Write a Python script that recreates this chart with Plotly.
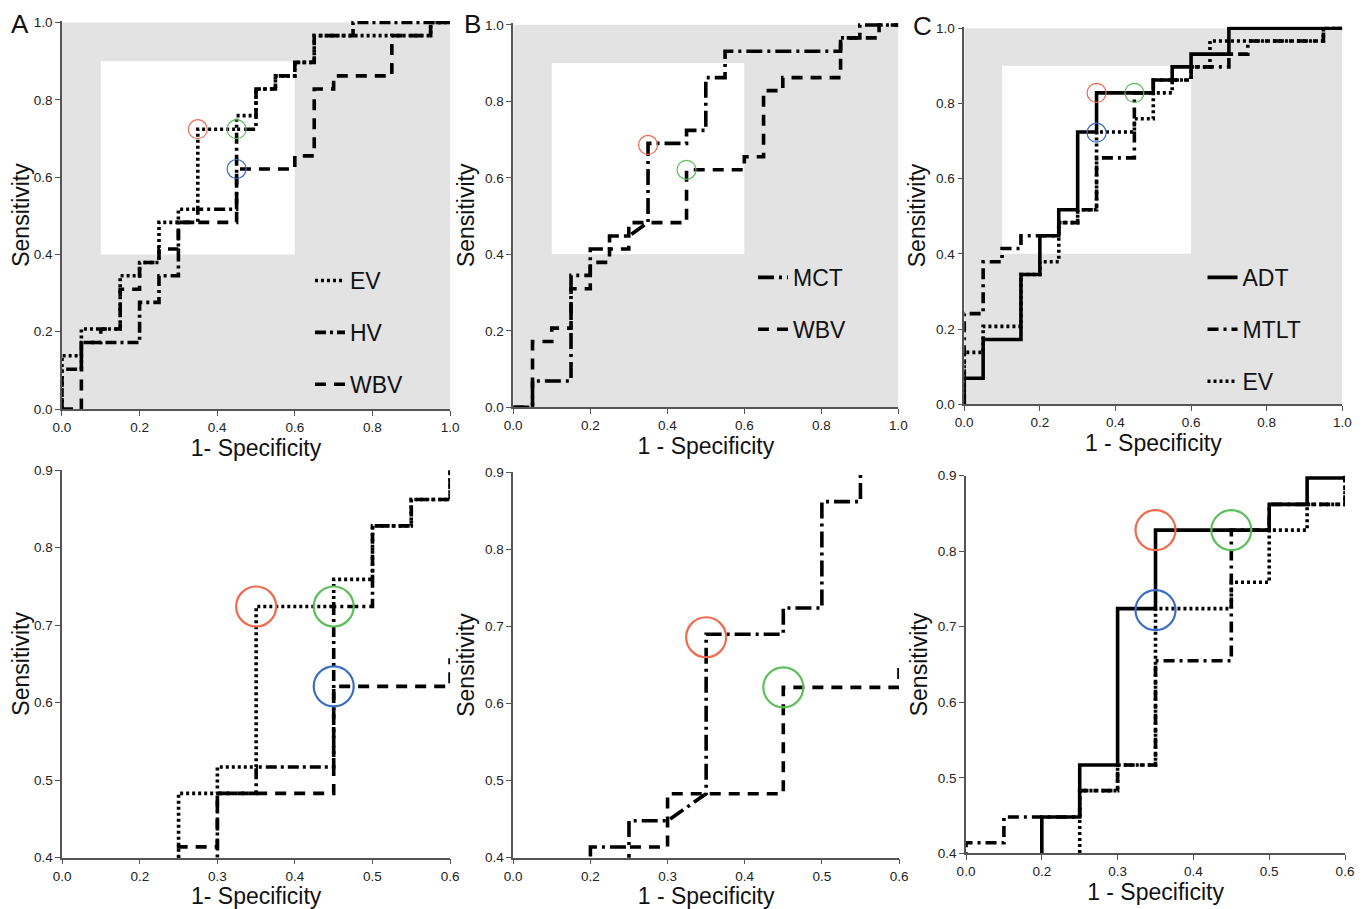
import plotly.graph_objects as go

# ---------------- data (1 - specificity, sensitivity) ----------------
EV_X = [0, 0, 0.05, 0.05, 0.15, 0.15, 0.2, 0.2, 0.25, 0.25, 0.3, 0.3, 0.35, 0.35, 0.45, 0.45,
        0.5, 0.5, 0.55, 0.55, 0.6, 0.6, 0.65, 0.65, 0.95, 0.95, 1.0]
EV_Y = [0, 0.138, 0.138, 0.207, 0.207, 0.345, 0.345, 0.379, 0.379, 0.483, 0.483, 0.517, 0.517, 0.724, 0.724, 0.759,
        0.759, 0.828, 0.828, 0.862, 0.862, 0.897, 0.897, 0.966, 0.966, 1.0, 1.0]

HV_X = [0, 0, 0.05, 0.05, 0.2, 0.2, 0.25, 0.25, 0.3, 0.3, 0.35, 0.35, 0.45, 0.45, 0.5, 0.5,
        0.55, 0.55, 0.6, 0.6, 0.65, 0.65, 0.75, 0.75, 1.0]
HV_Y = [0, 0.103, 0.103, 0.172, 0.172, 0.276, 0.276, 0.345, 0.345, 0.483, 0.483, 0.517, 0.517, 0.724, 0.724, 0.828,
        0.828, 0.862, 0.862, 0.897, 0.897, 0.966, 0.966, 1.0, 1.0]

WBV_X = [0, 0.05, 0.05, 0.1, 0.1, 0.15, 0.15, 0.2, 0.2, 0.25, 0.25, 0.3, 0.3, 0.45, 0.45, 0.6,
         0.6, 0.65, 0.65, 0.7, 0.7, 0.85, 0.85, 0.95, 0.95, 1.0]
WBV_Y = [0, 0, 0.172, 0.172, 0.207, 0.207, 0.310, 0.310, 0.379, 0.379, 0.414, 0.414, 0.483, 0.483, 0.621, 0.621,
         0.655, 0.655, 0.828, 0.828, 0.862, 0.862, 0.966, 0.966, 1.0, 1.0]

MCT_X = [0, 0.05, 0.05, 0.15, 0.15, 0.2, 0.2, 0.25, 0.25, 0.3, 0.35, 0.35, 0.45, 0.45, 0.5, 0.5,
         0.55, 0.55, 0.85, 0.85, 0.9, 0.9, 1.0]
MCT_Y = [0, 0, 0.069, 0.069, 0.345, 0.345, 0.414, 0.414, 0.448, 0.448, 0.483, 0.690, 0.690, 0.724, 0.724, 0.862,
         0.862, 0.931, 0.931, 0.966, 0.966, 1.0, 1.0]

ADT_X = [0, 0, 0.05, 0.05, 0.15, 0.15, 0.2, 0.2, 0.25, 0.25, 0.3, 0.3, 0.35, 0.35, 0.5, 0.5,
         0.55, 0.55, 0.6, 0.6, 0.7, 0.7, 1.0]
ADT_Y = [0, 0.069, 0.069, 0.172, 0.172, 0.345, 0.345, 0.448, 0.448, 0.517, 0.517, 0.724, 0.724, 0.828, 0.828, 0.862,
         0.862, 0.897, 0.897, 0.931, 0.931, 1.0, 1.0]

MTLT_X = [0, 0, 0.05, 0.05, 0.1, 0.1, 0.15, 0.15, 0.25, 0.25, 0.3, 0.3, 0.35, 0.35, 0.45, 0.45,
          0.5, 0.5, 0.6, 0.6, 0.7, 0.7, 0.75, 0.75, 0.95, 0.95, 1.0]
MTLT_Y = [0, 0.241, 0.241, 0.379, 0.379, 0.414, 0.414, 0.448, 0.448, 0.483, 0.483, 0.517, 0.517, 0.655, 0.655, 0.828,
          0.828, 0.862, 0.862, 0.897, 0.897, 0.931, 0.931, 0.966, 0.966, 1.0, 1.0]

# highlighted cut-off points (orange, green, blue)
A_CUT_X = [0.35, 0.45, 0.45]
A_CUT_Y = [0.724, 0.724, 0.621]
B_CUT_X = [0.35, 0.45]
B_CUT_Y = [0.686, 0.621]
C_CUT_X = [0.35, 0.45, 0.35]
C_CUT_Y = [0.828, 0.828, 0.722]
CUT_COLORS = ["#f06a4e", "#5cbf5a", "#3b6cc6"]

# zoom window and ticks
ZOOM_X = [0.1, 0.6]
ZOOM_Y = [0.4, 0.9]
TOP_TICKS = [0.0, 0.2, 0.4, 0.6, 0.8, 1.0]
ZOOM_XTICKS = [0.1, 0.2, 0.3, 0.4, 0.5, 0.6]
ZOOM_XTICKTEXT = ["0.0", "0.2", "0.3", "0.4", "0.5", "0.6"]
ZOOM_YTICKS = [0.4, 0.5, 0.6, 0.7, 0.8, 0.9]

# ---------------- styles ----------------
FONT = "Liberation Sans, Arial, sans-serif"
LW = 3.6
STYLE = {
    "EV": dict(dash="3px,3px", width=LW),
    "HV": dict(dash="11px,4px,3px,4px", width=LW),
    "WBV": dict(dash="11px,8px", width=LW),
    "MCT": dict(dash="16px,5px,3px,5px", width=LW),
    "ADT": dict(dash="solid", width=LW),
    "MTLT": dict(dash="11px,5px,3px,5px", width=LW),
}

panels = [
    dict(letter="A", xtitle="1- Specificity",
         series=[("EV", EV_X, EV_Y), ("HV", HV_X, HV_Y), ("WBV", WBV_X, WBV_Y)],
         cut=(A_CUT_X, A_CUT_Y),
         top_dom=([0.0398, 0.3260], [0.5549, 0.9856]),
         bot_dom=([0.0400, 0.3260], [0.0569, 0.4872]),
         ystandoff=0,
         legend_pos=(0.2227, 0.7214), letter_pos=(0.0010, 0.9822)),
    dict(letter="B", xtitle="1 - Specificity",
         series=[("MCT", MCT_X, MCT_Y), ("WBV", WBV_X, WBV_Y)],
         cut=(B_CUT_X, B_CUT_Y),
         top_dom=([0.3726, 0.6566], [0.5568, 0.9830]),
         bot_dom=([0.3726, 0.6571], [0.0569, 0.4847]),
         ystandoff=4,
         legend_pos=(0.5494, 0.7248), letter_pos=(0.3350, 0.9822)),
    dict(letter="C", xtitle="1 - Specificity",
         series=[("ADT", ADT_X, ADT_Y), ("MTLT", MTLT_X, MTLT_Y), ("EV", EV_X, EV_Y)],
         cut=(C_CUT_X, C_CUT_Y),
         top_dom=([0.7052, 0.9840], [0.5602, 0.9793]),
         bot_dom=([0.7065, 0.9860], [0.0618, 0.4809]),
         ystandoff=4,
         legend_pos=(0.8809, 0.7248), letter_pos=(0.6662, 0.9800)),
]

fig = go.Figure()
layout = dict(
    width=1356, height=901,
    margin=dict(l=0, r=0, t=0, b=0, autoexpand=False),
    paper_bgcolor="white", plot_bgcolor="white",
    font=dict(family=FONT, color="#111"),
    shapes=[], annotations=[],
)

axis_common = dict(showgrid=False, zeroline=False, showline=True, linecolor="#555", linewidth=1.5,
                   ticks="outside", ticklen=5, tickcolor="#555", tickwidth=1.2, automargin=False,
                   tickfont=dict(size=13.5, color="#222", family=FONT))


def ax(n):
    return "" if n == 1 else str(n)


for i, p in enumerate(panels):
    tx, ty = 2 * i + 1, 2 * i + 2          # top axes numbers
    bx, by = 2 * i + 7, 2 * i + 8          # bottom axes numbers
    leg = "legend" if i == 0 else f"legend{i + 1}"

    # top axes
    layout[f"xaxis{ax(tx)}"] = dict(axis_common, domain=p["top_dom"][0], anchor=f"y{ax(ty)}",
                                    range=[0, 1.0], tickvals=TOP_TICKS, tickformat=".1f",
                                    title=dict(text=p["xtitle"], font=dict(size=23, family=FONT), standoff=5))
    layout[f"yaxis{ax(ty)}"] = dict(axis_common, domain=p["top_dom"][1], anchor=f"x{ax(tx)}",
                                    range=[0, 1.004], tickvals=TOP_TICKS, tickformat=".1f",
                                    title=dict(text="Sensitivity", font=dict(size=23, family=FONT),
                                               standoff=p["ystandoff"]))
    # bottom (zoomed) axes
    layout[f"xaxis{bx}"] = dict(axis_common, domain=p["bot_dom"][0], anchor=f"y{by}",
                                range=ZOOM_X, tickvals=ZOOM_XTICKS, ticktext=ZOOM_XTICKTEXT,
                                title=dict(text=p["xtitle"], font=dict(size=23, family=FONT), standoff=5))
    layout[f"yaxis{by}"] = dict(axis_common, domain=p["bot_dom"][1], anchor=f"x{bx}",
                                range=ZOOM_Y, tickvals=ZOOM_YTICKS, tickformat=".1f",
                                title=dict(text="Sensitivity", font=dict(size=23, family=FONT),
                                           standoff=p["ystandoff"]))

    # grey background and white zoom window on top panel
    layout["shapes"].append(dict(type="rect", xref=f"x{ax(tx)}", yref=f"y{ax(ty)}",
                                 x0=TOP_TICKS[0], x1=TOP_TICKS[-1], y0=TOP_TICKS[0], y1=TOP_TICKS[-1],
                                 fillcolor="#e3e3e3", line=dict(width=0), layer="below"))
    layout["shapes"].append(dict(type="rect", xref=f"x{ax(tx)}", yref=f"y{ax(ty)}",
                                 x0=ZOOM_X[0], x1=ZOOM_X[1], y0=ZOOM_Y[0], y1=ZOOM_Y[1],
                                 fillcolor="white", line=dict(width=0), layer="below"))

    # legend
    layout[leg] = dict(x=p["legend_pos"][0], y=p["legend_pos"][1], xanchor="left", yanchor="top",
                       bgcolor="rgba(0,0,0,0)", font=dict(size=23, family=FONT, color="#111"),
                       traceorder="grouped", tracegroupgap=19, itemwidth=30)

    # panel letter
    layout["annotations"].append(dict(text=p["letter"], xref="paper", yref="paper",
                                      x=p["letter_pos"][0], y=p["letter_pos"][1],
                                      xanchor="left", yanchor="middle", showarrow=False,
                                      font=dict(size=26, family=FONT, color="#111")))

    for name, xs, ys in p["series"]:
        st = STYLE[name]
        fig.add_trace(go.Scatter(x=xs, y=ys, mode="lines", name=name,
                                 line=dict(color="black", dash=st["dash"], width=st["width"]),
                                 xaxis=f"x{ax(tx)}", yaxis=f"y{ax(ty)}",
                                 legend=leg, legendgroup=f"{p['letter']}{name}", showlegend=True))
        fig.add_trace(go.Scatter(x=xs, y=ys, mode="lines", name=name,
                                 line=dict(color="black", dash=st["dash"], width=st["width"]),
                                 xaxis=f"x{bx}", yaxis=f"y{by}", showlegend=False))

    cx, cy = p["cut"]
    cols = CUT_COLORS[:len(cx)]
    fig.add_trace(go.Scatter(x=cx, y=cy, mode="markers", showlegend=False,
                             marker=dict(symbol="circle-open", size=19, color=cols, line=dict(width=1.2, color=cols)),
                             xaxis=f"x{ax(tx)}", yaxis=f"y{ax(ty)}"))
    fig.add_trace(go.Scatter(x=cx, y=cy, mode="markers", showlegend=False,
                             marker=dict(symbol="circle-open", size=40, color=cols, line=dict(width=2.2, color=cols)),
                             xaxis=f"x{bx}", yaxis=f"y{by}"))

fig.update_layout(**layout)
fig.write_html("out.html")
